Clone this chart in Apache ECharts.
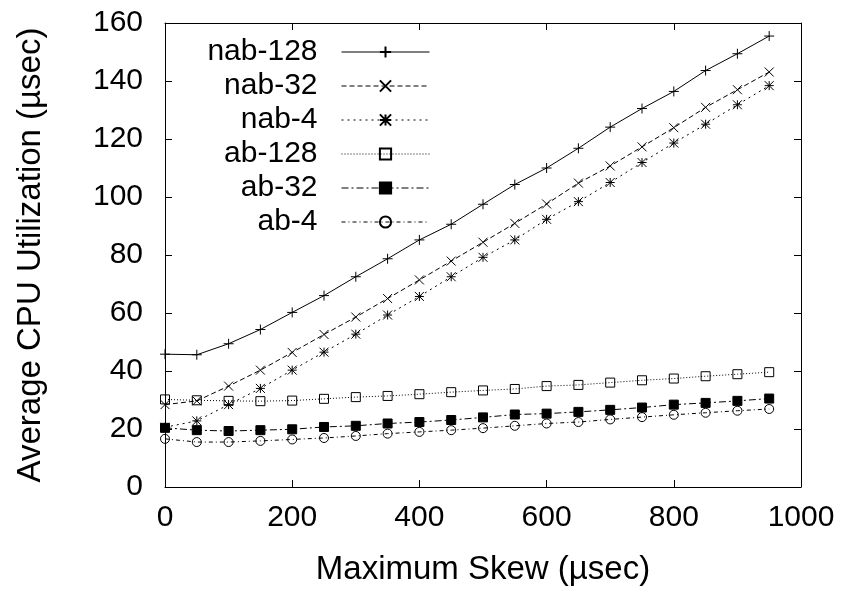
<!DOCTYPE html>
<html>
<head>
<meta charset="utf-8">
<script src="https://cdn.jsdelivr.net/npm/echarts@6/dist/echarts.min.js"></script>
<style>
html,body{margin:0;padding:0;background:#fff;}
#chart{width:847px;height:592px;}
</style>
</head>
<body>
<div id="chart"></div>
<script>
// ---- data ----
const skew = [0, 50, 100, 150, 200, 250, 300, 350, 400, 450, 500, 550, 600, 650, 700, 750, 800, 850, 900, 950];
const seriesNames = ['nab-128', 'nab-32', 'nab-4', 'ab-128', 'ab-32', 'ab-4'];
const nab128 = [45.8, 45.6, 49.4, 54.3, 60.2, 66.0, 72.5, 78.7, 85.2, 90.6, 97.5, 104.3, 110.0, 116.8, 124.1, 130.5, 136.4, 143.6, 149.4, 155.5];
const nab32  = [28.4, 29.7, 34.8, 40.3, 46.4, 52.6, 58.6, 65.0, 71.4, 77.9, 84.4, 90.9, 97.6, 104.8, 110.7, 117.3, 123.9, 130.9, 137.0, 143.1];
const nab4   = [20.6, 22.8, 28.4, 34.0, 40.3, 46.5, 52.7, 59.3, 65.7, 72.5, 79.2, 85.2, 92.3, 98.4, 105.0, 111.9, 118.6, 125.1, 131.8, 138.4];
const ab128  = [30.2, 29.9, 29.7, 29.6, 29.8, 30.4, 31.0, 31.4, 32.0, 32.7, 33.3, 33.8, 34.8, 35.2, 36.0, 36.8, 37.4, 38.2, 38.9, 39.6];
const ab32   = [20.4, 19.6, 19.3, 19.6, 19.9, 20.7, 21.1, 21.9, 22.4, 23.1, 24.0, 25.0, 25.3, 25.9, 26.6, 27.4, 28.4, 29.0, 29.7, 30.5];
const ab4    = [16.6, 15.5, 15.5, 15.9, 16.4, 16.9, 17.6, 18.4, 19.0, 19.6, 20.3, 21.1, 21.9, 22.4, 23.3, 24.1, 24.9, 25.6, 26.3, 26.9];
const xTitle = 'Maximum Skew (\u00b5sec)';
const yTitle = 'Average CPU Utilization (\u00b5sec)';

// ---- styles ----
const FONT = '"Liberation Sans", Arial, Helvetica, sans-serif';
const symPlus = 'path://M5,0L5,10M0,5L10,5';
const symCross = 'path://M0,0L10,10M0,10L10,0';
const symStar = 'path://M5,0L5,10M0,5L10,5M0,0L10,10M0,10L10,0';
const styles = [
  {symbol: symPlus, size: 10, dash: 'solid', fill: 'none'},
  {symbol: symCross, size: 9, dash: [5, 3], fill: 'none'},
  {symbol: symStar, size: 9, dash: [2, 4], fill: 'none'},
  {symbol: 'rect', size: 9, dash: [1, 2], fill: 'none'},
  {symbol: 'rect', size: 9, dash: [7, 3, 2, 3], fill: '#000'},
  {symbol: 'circle', size: 9, dash: [4, 3, 1, 3], fill: 'none'}
];
const dataSets = [nab128, nab32, nab4, ab128, ab32, ab4];

const series = seriesNames.map((name, i) => ({
  name: name,
  type: 'line',
  xAxisIndex: 0,
  yAxisIndex: 0,
  data: skew.map((x, j) => [x, dataSets[i][j]]),
  symbol: styles[i].symbol,
  symbolSize: styles[i].size,
  showAllSymbol: true,
  animation: false,
  lineStyle: {color: '#000', width: 1, type: styles[i].dash},
  itemStyle: {color: styles[i].fill, borderColor: '#000', borderWidth: 1},
  emphasis: {disabled: true}
}));

const legends = seriesNames.map((name, i) => ({
  data: [name],
  right: 412,
  top: 32 + i * 34,
  align: 'right',
  itemWidth: 88,
  itemHeight: 14,
  selectedMode: false,
  textStyle: {fontFamily: FONT, fontSize: 30, color: '#000', padding: [0, 19, 0, 0]},
  lineStyle: {width: 1}
}));

const axisCommon = {
  type: 'value',
  axisLine: {show: true, onZero: false, lineStyle: {color: '#000', width: 1}},
  axisTick: {show: true, inside: true, length: 7, lineStyle: {color: '#000', width: 1}},
  splitLine: {show: false}
};

const plainNum = v => String(v);

const option = {
  backgroundColor: '#fff',
  animation: false,
  grid: {left: 165, right: 46, top: 23, bottom: 105, containLabel: false},
  legend: legends,
  xAxis: [
    Object.assign({}, axisCommon, {
      position: 'bottom', min: 0, max: 1000, interval: 200,
      name: xTitle, nameLocation: 'middle', nameGap: 66,
      nameTextStyle: {fontFamily: FONT, fontSize: 33, color: '#000'},
      axisLabel: {fontFamily: FONT, fontSize: 30, color: '#000', margin: 16, formatter: plainNum}
    }),
    Object.assign({}, axisCommon, {
      position: 'top', min: 0, max: 1000, interval: 200,
      axisLabel: {show: false}
    })
  ],
  yAxis: [
    Object.assign({}, axisCommon, {
      position: 'left', min: 0, max: 160, interval: 20,
      name: yTitle, nameLocation: 'middle', nameGap: 118,
      nameTextStyle: {fontFamily: FONT, fontSize: 33, color: '#000'},
      axisLabel: {fontFamily: FONT, fontSize: 30, color: '#000', margin: 22, formatter: plainNum}
    }),
    Object.assign({}, axisCommon, {
      position: 'right', min: 0, max: 160, interval: 20,
      axisLabel: {show: false}
    })
  ],
  series: series
};

const chart = echarts.init(document.getElementById('chart'), null, {renderer: 'canvas'});
chart.setOption(option);
</script>
</body>
</html>
